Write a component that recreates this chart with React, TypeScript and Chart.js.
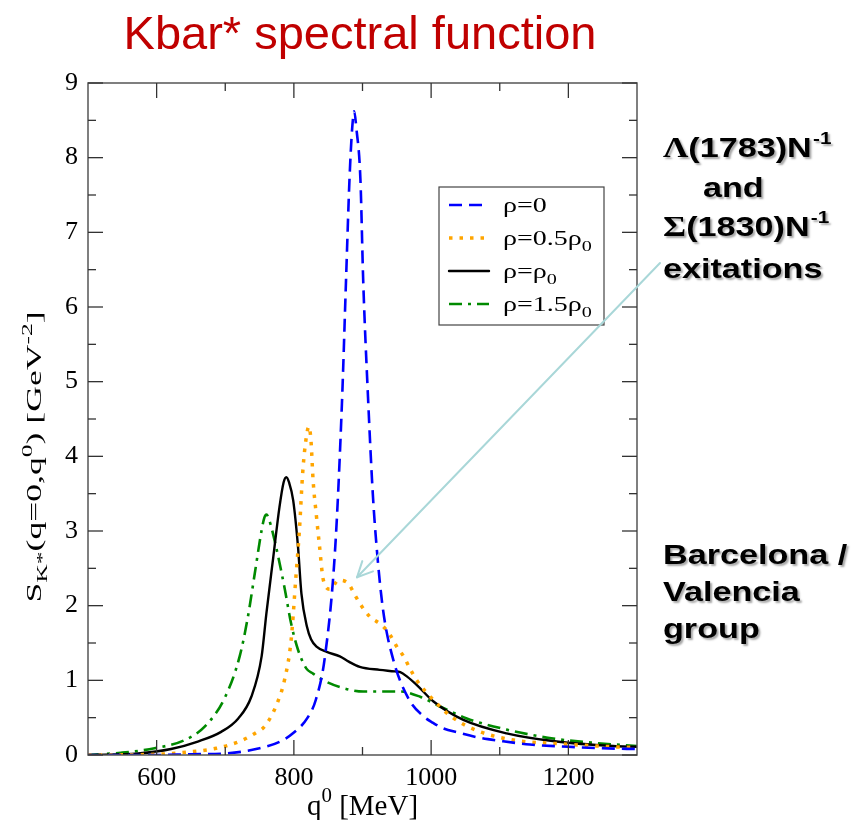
import React, { useEffect, useRef } from "react";
import Chart from "chart.js/auto";

// ---- data (q0 in MeV, S in GeV^-2) ----
const Q_RHO_0 = [500, 600, 650, 700, 750, 780, 800, 820, 832, 845, 860, 870, 876, 881, 885, 888, 891, 897, 901, 908, 915, 921, 930, 945, 968, 990, 1003, 1017, 1040, 1071, 1100, 1144, 1200, 1250, 1300];
const S_RHO_0 = [0.0, 0.0, 0.01, 0.02, 0.09, 0.18, 0.3, 0.5, 0.74, 1.3, 2.74, 4.7, 6.36, 7.7, 8.4, 8.62, 8.4, 7.7, 6.36, 4.8, 3.5, 2.74, 1.94, 1.27, 0.74, 0.51, 0.43, 0.36, 0.3, 0.23, 0.19, 0.14, 0.11, 0.09, 0.08];

const Q_RHO_05 = [500, 600, 646, 687, 723, 745, 758, 776, 787, 796, 803, 808, 813, 818, 822, 825, 828, 833, 837, 843, 853, 865, 879, 889, 899, 911, 928, 940, 950, 960, 969, 979, 1003, 1030, 1066, 1120, 1188, 1265, 1300];
const S_RHO_05 = [0.0, 0.01, 0.04, 0.09, 0.19, 0.3, 0.39, 0.7, 1.03, 1.54, 2.39, 3.0, 3.8, 4.25, 4.4, 4.2, 3.68, 3.19, 2.83, 2.34, 2.22, 2.34, 2.3, 2.14, 1.99, 1.85, 1.74, 1.61, 1.45, 1.32, 1.16, 1.0, 0.74, 0.51, 0.33, 0.2, 0.15, 0.11, 0.1];

const Q_RHO_1 = [500, 573, 621, 660, 694, 719, 738, 753, 760, 770, 779, 785, 789, 793, 799, 806, 811, 819, 825, 833, 848, 867, 880, 896, 925, 947, 955, 965, 980, 1003, 1047, 1110, 1183, 1265, 1300];
const S_RHO_1 = [0.0, 0.02, 0.08, 0.18, 0.31, 0.49, 0.78, 1.32, 1.9, 2.65, 3.32, 3.65, 3.72, 3.65, 3.41, 2.79, 2.16, 1.72, 1.55, 1.45, 1.38, 1.32, 1.25, 1.18, 1.14, 1.12, 1.11, 1.05, 0.93, 0.72, 0.47, 0.29, 0.18, 0.12, 0.11];

const Q_RHO_15 = [500, 548, 597, 641, 670, 699, 721, 733, 743, 753, 757, 760, 764, 774, 787, 796, 806, 818, 828, 843, 867, 901, 940, 955, 984, 1013, 1052, 1110, 1178, 1241, 1300];
const S_RHO_15 = [0.0, 0.03, 0.09, 0.2, 0.38, 0.76, 1.32, 1.85, 2.43, 3.01, 3.18, 3.22, 3.15, 2.79, 2.21, 1.76, 1.41, 1.16, 1.09, 1.0, 0.91, 0.85, 0.85, 0.85, 0.78, 0.65, 0.49, 0.34, 0.22, 0.16, 0.12];

const X_MAJOR = [600, 800, 1000, 1200];
const X_MINOR = [700, 900, 1100];
const Y_MAJOR = [0, 1, 2, 3, 4, 5, 6, 7, 8, 9];
const Y_MINOR = [0.5, 1.5, 2.5, 3.5, 4.5, 5.5, 6.5, 7.5, 8.5];

const TITLE = "Kbar* spectral function";
const NOTE_1 = ["Λ", "(1783)N", "-1"];
const NOTE_2 = "and";
const NOTE_3 = ["Σ", "(1830)N", "-1"];
const NOTE_4 = "exitations";
const GROUP = ["Barcelona /", "Valencia", "group"];

type Seg = { t: string; m?: "sub" | "sup" };

const SERIES = [
  { q: Q_RHO_0, s: S_RHO_0, color: "#0000ff", dash: [13, 7], width: 2.6, cap: "butt", legend: [{ t: "ρ=0" }] as Seg[] },
  { q: Q_RHO_05, s: S_RHO_05, color: "#ffa500", dash: [3.5, 7], width: 3.5, cap: "butt", legend: [{ t: "ρ=0.5ρ" }, { t: "0", m: "sub" }] as Seg[] },
  { q: Q_RHO_1, s: S_RHO_1, color: "#000000", dash: [], width: 2.4, cap: "round", legend: [{ t: "ρ=ρ" }, { t: "0", m: "sub" }] as Seg[] },
  { q: Q_RHO_15, s: S_RHO_15, color: "#008a00", dash: [13, 6, 3, 6], width: 2.6, cap: "butt", legend: [{ t: "ρ=1.5ρ" }, { t: "0", m: "sub" }] as Seg[] },
];

const SERIF = "'Liberation Serif', 'Times New Roman', serif";
const SANS = "'Liberation Sans', Arial, sans-serif";

function richWidth(ctx: CanvasRenderingContext2D, segs: Seg[], size: number, family: string, weight = "normal") {
  let w = 0;
  for (const s of segs) {
    const sz = s.m ? size * 0.72 : size;
    ctx.font = `${weight} ${sz}px ${family}`;
    w += ctx.measureText(s.t).width;
  }
  return w;
}

function drawRich(ctx: CanvasRenderingContext2D, segs: Seg[], x: number, y: number, size: number, family: string, align: "left" | "center" = "left", weight = "normal") {
  let cx = align === "center" ? x - richWidth(ctx, segs, size, family, weight) / 2 : x;
  ctx.textAlign = "left";
  ctx.textBaseline = "alphabetic";
  for (const s of segs) {
    const sz = s.m ? size * 0.72 : size;
    ctx.font = `${weight} ${sz}px ${family}`;
    const dy = s.m === "sub" ? size * 0.28 : s.m === "sup" ? -size * 0.45 : 0;
    ctx.fillText(s.t, cx, y + dy);
    cx += ctx.measureText(s.t).width;
  }
}

function scaled(ctx: CanvasRenderingContext2D, x: number, y: number, sx: number, fn: () => void) {
  ctx.save();
  ctx.translate(x, y);
  ctx.scale(sx, 1);
  fn();
  ctx.restore();
}

const decorPlugin = {
  id: "decor",
  afterDraw(chart: any) {
    const ctx: CanvasRenderingContext2D = chart.ctx;
    const { left, right, top, bottom } = chart.chartArea;
    const xs = chart.scales.x;
    const ys = chart.scales.y;
    ctx.save();

    // frame
    ctx.strokeStyle = "#555";
    ctx.lineWidth = 1.5;
    ctx.setLineDash([]);
    ctx.strokeRect(left, top, right - left, bottom - top);

    // inward ticks on all four sides
    ctx.strokeStyle = "#333";
    ctx.lineWidth = 1.3;
    const tick = (x1: number, y1: number, x2: number, y2: number) => {
      ctx.beginPath();
      ctx.moveTo(x1, y1);
      ctx.lineTo(x2, y2);
      ctx.stroke();
    };
    for (const v of X_MAJOR) {
      const p = xs.getPixelForValue(v);
      tick(p, bottom, p, bottom - 15);
      tick(p, top, p, top + 15);
    }
    for (const v of X_MINOR) {
      const p = xs.getPixelForValue(v);
      tick(p, bottom, p, bottom - 8);
      tick(p, top, p, top + 8);
    }
    for (const v of Y_MAJOR) {
      const p = ys.getPixelForValue(v);
      tick(left, p, left + 15, p);
      tick(right, p, right - 15, p);
    }
    for (const v of Y_MINOR) {
      const p = ys.getPixelForValue(v);
      tick(left, p, left + 8, p);
      tick(right, p, right - 8, p);
    }

    // legend
    ctx.fillStyle = "#fff";
    ctx.fillRect(439, 187, 165, 138);
    ctx.strokeStyle = "#444";
    ctx.lineWidth = 1.2;
    ctx.strokeRect(439, 187, 165, 138);
    SERIES.forEach((s, i) => {
      const yy = 205 + i * 33;
      ctx.strokeStyle = s.color;
      ctx.lineWidth = s.width;
      ctx.lineCap = s.cap as CanvasLineCap;
      ctx.setLineDash(s.dash);
      ctx.beginPath();
      ctx.moveTo(449, yy);
      ctx.lineTo(489, yy);
      ctx.stroke();
      ctx.setLineDash([]);
      ctx.fillStyle = "#000";
      scaled(ctx, 503, yy + 7, 1.4, () => drawRich(ctx, s.legend, 0, 0, 20, SERIF));
    });

    // x axis title
    ctx.fillStyle = "#000";
    drawRich(ctx, [{ t: "q" }, { t: "0", m: "sup" }, { t: " [MeV]" }], (left + right) / 2, 815, 29, SERIF, "center");

    // y axis title (rotated, stretched along its length)
    ctx.save();
    ctx.translate(41, 457);
    ctx.rotate(-Math.PI / 2);
    ctx.scale(1.78, 1);
    drawRich(
      ctx,
      [{ t: "S" }, { t: "K*", m: "sub" }, { t: "(q=0,q" }, { t: "0", m: "sup" }, { t: ") [GeV" }, { t: "-2", m: "sup" }, { t: "]" }],
      0,
      0,
      20,
      SERIF,
      "center"
    );
    ctx.restore();

    // title
    ctx.fillStyle = "#c00000";
    ctx.font = `47px ${SANS}`;
    ctx.textAlign = "center";
    ctx.textBaseline = "alphabetic";
    ctx.fillText(TITLE, 360, 49);

    // annotations with shadow
    ctx.save();
    ctx.shadowColor = "rgba(0,0,0,0.35)";
    ctx.shadowOffsetX = 2;
    ctx.shadowOffsetY = 2;
    ctx.shadowBlur = 2;
    ctx.fillStyle = "#000";
    ctx.textAlign = "left";
    ctx.textBaseline = "alphabetic";
    const SX = 1.22;
    const note = (parts: string[], x: number, y: number) => {
      scaled(ctx, x, y, SX, () => {
        ctx.font = `bold 29px ${SERIF}`;
        ctx.fillText(parts[0], 0, 0);
        let cx = ctx.measureText(parts[0]).width;
        ctx.font = `bold 28px ${SANS}`;
        ctx.fillText(parts[1], cx, 0);
        cx += ctx.measureText(parts[1]).width;
        ctx.font = `bold 17px ${SANS}`;
        ctx.fillText(parts[2], cx + 1, -13);
      });
    };
    const plain = (t: string, x: number, y: number) => {
      scaled(ctx, x, y, SX, () => {
        ctx.font = `bold 28px ${SANS}`;
        ctx.fillText(t, 0, 0);
      });
    };
    note(NOTE_1, 663, 157);
    plain(NOTE_2, 703, 197);
    note(NOTE_3, 663, 236);
    plain(NOTE_4, 663, 278);
    GROUP.forEach((g, i) => plain(g, 663, 564 + i * 37));
    ctx.restore();

    // arrow
    const tipX = xs.getPixelForValue(892);
    const tipY = ys.getPixelForValue(2.38);
    const sx = 660;
    const sy = 263;
    ctx.strokeStyle = "#a9d7d8";
    ctx.lineWidth = 2;
    ctx.setLineDash([]);
    ctx.lineCap = "round";
    ctx.beginPath();
    ctx.moveTo(sx, sy);
    ctx.lineTo(tipX, tipY);
    ctx.stroke();
    const ang = Math.atan2(sy - tipY, sx - tipX);
    const hl = 17;
    for (const d of [0.45, -0.45]) {
      ctx.beginPath();
      ctx.moveTo(tipX, tipY);
      ctx.lineTo(tipX + hl * Math.cos(ang + d), tipY + hl * Math.sin(ang + d));
      ctx.stroke();
    }

    ctx.restore();
  },
};

export default function App() {
  const ref = useRef<HTMLCanvasElement | null>(null);
  useEffect(() => {
    const canvas = ref.current;
    if (!canvas) return;
    const chart = new Chart(canvas, {
      type: "line",
      data: {
        datasets: SERIES.map((s) => ({
          data: s.q.map((q, i) => ({ x: q, y: s.s[i] })),
          borderColor: s.color,
          backgroundColor: s.color,
          borderWidth: s.width,
          borderDash: s.dash,
          borderCapStyle: s.cap as CanvasLineCap,
          pointRadius: 0,
          fill: false,
          cubicInterpolationMode: "monotone" as const,
        })),
      },
      options: {
        responsive: false,
        animation: false,
        devicePixelRatio: 1,
        layout: { padding: { top: 83, right: 219, left: 0, bottom: 0 } },
        plugins: { legend: { display: false }, tooltip: { enabled: false }, title: { display: false } },
        scales: {
          x: {
            type: "linear",
            min: 500,
            max: 1300,
            grid: { display: false, drawTicks: false },
            border: { display: false },
            ticks: { color: "#000", padding: 8, font: { family: SERIF, size: 26 }, callback: (v: any) => String(v) },
            afterBuildTicks: (s: any) => {
              s.ticks = X_MAJOR.map((v) => ({ value: v }));
            },
            afterFit: (s: any) => {
              s.height = 65;
            },
          },
          y: {
            type: "linear",
            min: 0,
            max: 9,
            grid: { display: false, drawTicks: false },
            border: { display: false },
            ticks: { color: "#000", padding: 10, font: { family: SERIF, size: 26 }, callback: (v: any) => String(v) },
            afterBuildTicks: (s: any) => {
              s.ticks = Y_MAJOR.map((v) => ({ value: v }));
            },
            afterFit: (s: any) => {
              s.width = 88;
            },
          },
        },
      },
      plugins: [decorPlugin],
    });
    return () => chart.destroy();
  }, []);
  return (
    <div style={{ position: "absolute", left: 0, top: 0, width: 856, height: 820, background: "#fff" }}>
      <canvas ref={ref} width={856} height={820} style={{ display: "block" }} />
    </div>
  );
}
